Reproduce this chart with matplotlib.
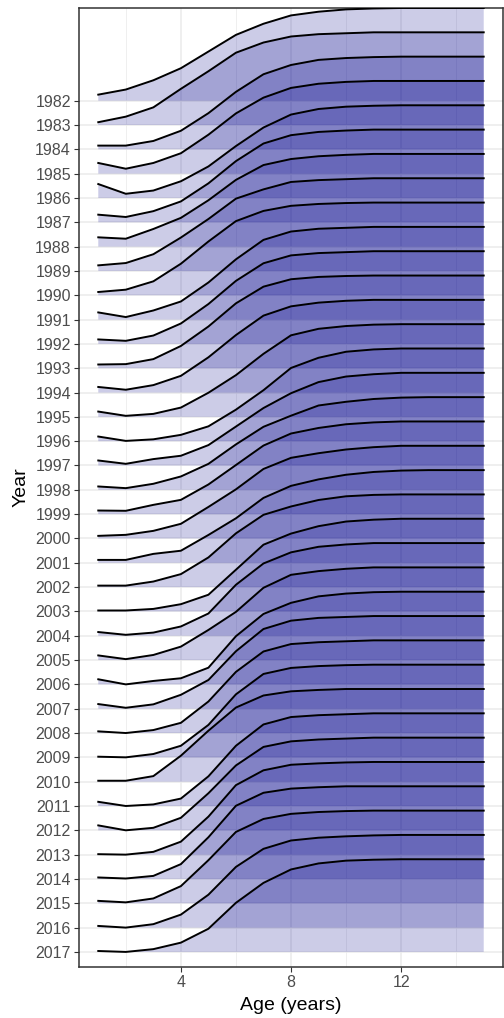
import matplotlib
matplotlib.use("Agg")
import matplotlib.pyplot as plt
from matplotlib.ticker import FixedLocator

ages = [1, 2, 3, 4, 5, 6, 7, 8, 9, 10, 11, 12, 13, 14, 15]
years = list(range(1982, 2018))

# proportion at age, one list per year
p1982 = [.065, .12, .22, .35, .53, .71, .83, .92, .96, .985, .995, 1, 1, 1, 1]
p1983 = [.03, .09, .19, .39, .58, .78, .89, .955, .98, .99, 1, 1, 1, 1, 1]
p1984 = [.04, .04, .09, .20, .39, .62, .81, .91, .965, .985, .995, 1, 1, 1, 1]
p1985 = [.115, .053, .115, .22, .42, .65, .82, .925, .97, .99, 1, 1, 1, 1, 1]
p1986 = [.15, .045, .08, .18, .34, .56, .76, .90, .96, .985, .995, 1, 1, 1, 1]
p1987 = [.082, .057, .12, .225, .42, .66, .85, .94, .975, .99, 1, 1, 1, 1, 1]
p1988 = [.10, .085, .19, .31, .50, .72, .88, .945, .975, .99, 1, 1, 1, 1, 1]
p1989 = [.06, .085, .18, .36, .56, .78, .88, .96, .98, .99, 1, 1, 1, 1, 1]
p1990 = [.035, .06, .15, .34, .58, .80, .91, .965, .985, .995, 1, 1, 1, 1, 1]
p1991 = [.077, .027, .098, .195, .40, .65, .86, .95, .98, .99, 1, 1, 1, 1, 1]
p1992 = [.048, .033, .09, .22, .43, .68, .87, .955, .98, .99, 1, 1, 1, 1, 1]
p1993 = [.04, .044, .098, .24, .45, .70, .88, .96, .985, .995, 1, 1, 1, 1, 1]
p1994 = [.06, .03, .08, .18, .38, .62, .83, .93, .97, .99, 1, 1, 1, 1, 1]
p1995 = [.057, .011, .032, .10, .26, .45, .68, .88, .95, .98, .995, 1, 1, 1, 1]
p1996 = [.05, .003, .02, .068, .16, .34, .55, .79, .90, .965, .99, 1, 1, 1, 1]
p1997 = [.054, .018, .069, .105, .22, .42, .62, .78, .90, .96, .985, 1, 1, 1, 1]
p1998 = [.036, .018, .065, .144, .28, .49, .68, .80, .91, .95, .98, .995, 1, 1, 1]
p1999 = [.039, .036, .10, .154, .32, .53, .74, .87, .93, .97, .99, 1, 1, 1, 1]
p2000 = [.028, .039, .082, .158, .34, .53, .75, .87, .92, .96, .985, 1, 1, 1, 1]
p2001 = [.031, .031, .096, .13, .30, .48, .70, .83, .90, .95, .98, .995, 1, 1, 1]
p2002 = [.016, .016, .06, .14, .32, .58, .78, .87, .94, .98, .995, 1, 1, 1, 1]
p2003 = [.01, .01, .027, .078, .18, .45, .72, .84, .92, .97, .99, 1, 1, 1, 1]
p2004 = [.04, .01, .034, .10, .24, .55, .78, .90, .96, .985, 1, 1, 1, 1, 1]
p2005 = [.05, .01, .055, .145, .325, .52, .78, .92, .96, .985, 1, 1, 1, 1, 1]
p2006 = [.055, .0, .037, .066, .18, .52, .76, .88, .95, .98, .995, 1, 1, 1, 1]
p2007 = [.05, .01, .047, .15, .31, .62, .86, .95, .98, .99, 1, 1, 1, 1, 1]
p2008 = [.018, .0, .032, .11, .34, .66, .88, .96, .98, .99, 1, 1, 1, 1, 1]
p2009 = [.007, .0, .036, .125, .35, .68, .90, .965, .985, .995, 1, 1, 1, 1, 1]
p2010 = [.01, .01, .06, .28, .55, .80, .93, .975, .99, 1, 1, 1, 1, 1, 1]
p2011 = [.045, .0, .017, .08, .32, .65, .88, .96, .98, .99, 1, 1, 1, 1, 1]
p2012 = [.053, .0, .027, .135, .40, .70, .90, .96, .98, .99, 1, 1, 1, 1, 1]
p2013 = [.005, .0, .03, .14, .41, .75, .91, .97, .985, .995, 1, 1, 1, 1, 1]
p2014 = [.016, .005, .033, .16, .45, .79, .93, .975, .99, 1, 1, 1, 1, 1, 1]
p2015 = [.026, .01, .052, .185, .465, .77, .91, .965, .985, .995, 1, 1, 1, 1, 1]
p2016 = [.018, .0, .037, .14, .355, .655, .85, .94, .97, .985, .995, 1, 1, 1, 1]
p2017 = [.01, .0, .03, .10, .25, .53, .745, .89, .955, .985, .995, 1, 1, 1, 1]

curves = [p1982, p1983, p1984, p1985, p1986, p1987, p1988, p1989, p1990,
          p1991, p1992, p1993, p1994, p1995, p1996, p1997, p1998, p1999,
          p2000, p2001, p2002, p2003, p2004, p2005, p2006, p2007, p2008,
          p2009, p2010, p2011, p2012, p2013, p2014, p2015, p2016, p2017]

ridge_scale = 3.81          # height of a value of 1, in rows
fill_col = "#00008B"
fill_alpha = 0.2

plt.rcParams["font.family"] = ["Liberation Sans", "DejaVu Sans"]

fig = plt.figure(figsize=(5.04, 10.18), dpi=100)
ax = fig.add_axes([79 / 504, 1 - 967 / 1018, (503 - 79) / 504, (967 - 8) / 1018])

for i, vals in enumerate(curves):
    top = [i - ridge_scale * v for v in vals]
    ax.fill_between(ages, i, top, facecolor=fill_col, alpha=fill_alpha,
                    linewidth=0, zorder=2 + 2 * i)
    ax.plot(ages, top, color="black", linewidth=1.4, zorder=3 + 2 * i,
            solid_joinstyle="round")

ax.set_xlim(0.3, 15.7)
ax.set_ylim(35.62, -3.81)

ax.xaxis.set_major_locator(FixedLocator([4, 8, 12]))
ax.xaxis.set_minor_locator(FixedLocator([2, 6, 10, 14]))
ax.set_yticks(range(len(years)))
ax.set_yticklabels([str(y) for y in years])

ax.set_axisbelow(True)
ax.grid(which="major", color="#EBEBEB", linewidth=1.1)
ax.grid(which="minor", axis="x", color="#EBEBEB", linewidth=0.55)

ax.tick_params(axis="both", which="major", length=3.6, width=0.8,
               color="#333333", labelcolor="#4D4D4D", labelsize=11.5, pad=2.2)
ax.tick_params(axis="x", which="minor", length=0)

for sp in ax.spines.values():
    sp.set_color("#333333")
    sp.set_linewidth(1.1)

ax.set_xlabel("Age (years)", fontsize=14, color="black", labelpad=5)
ax.set_ylabel("Year", fontsize=14, color="black", labelpad=4)

fig.savefig("out.png", dpi=100)
